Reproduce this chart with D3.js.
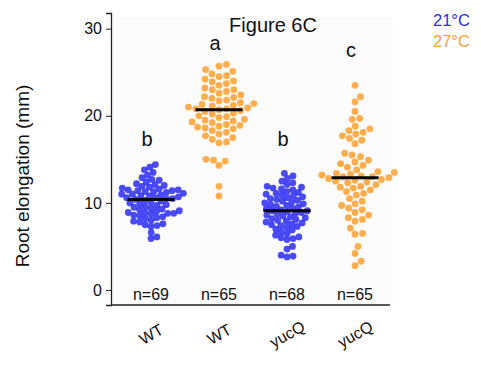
<!DOCTYPE html>
<html>
<head>
<meta charset="utf-8">
<script src="https://cdn.jsdelivr.net/npm/d3@7"></script>
<style>
  body { margin: 0; background: #fff; }
  svg text { font-family: "Liberation Sans", Arial, sans-serif; fill: #111; }
</style>
</head>
<body>
<svg id="chart"></svg>
<script>
const width = 481;
const height = 366;

// groups along x
const groupIds = ["WT21", "WT27", "yucQ21", "yucQ27"];
const groupLabels = ["WT", "WT", "yucQ", "yucQ"];
const groupTemps = ["21", "27", "21", "27"];
const nLabels = ["n=69", "n=65", "n=68", "n=65"];
const sigLetters = ["b", "a", "b", "c"];
const sigLetterAt = [16.5, 27.5, 16.5, 26.8];
const yTicks = [0, 10, 20, 30];

// root elongation (mm)
const wt21 = [14.4, 14.1, 13.8, 13.5, 13.2, 12.9, 12.7, 12.6, 12.4, 12.2, 12.1, 12.0, 11.9, 11.8, 11.7,
  11.6, 11.5, 11.5, 11.4, 11.4, 11.3, 11.3, 11.2, 11.1, 11.0, 11.0, 10.9, 10.8, 10.8, 10.7, 10.6, 10.6,
  10.5, 10.5, 10.4, 10.3, 10.2, 10.1, 10.0, 9.9, 9.8, 9.7, 9.6, 9.5, 9.4, 9.3, 9.2, 9.1, 9.0, 8.9, 8.9,
  8.8, 8.8, 8.7, 8.6, 8.5, 8.4, 8.3, 8.2, 8.0, 7.9, 7.8, 7.6, 7.5, 7.4, 7.3, 6.6, 6.1, 5.9];
const wt27 = [25.9, 25.7, 25.3, 25.1, 24.8, 24.6, 24.5, 24.2, 24.0, 23.9, 23.7, 23.5, 23.2, 23.0, 23.0,
  22.8, 22.6, 22.4, 22.2, 22.1, 22.0, 21.8, 21.7, 21.5, 21.4, 21.3, 21.2, 21.1, 21.0, 20.9, 20.8, 20.8,
  20.7, 20.6, 20.5, 20.3, 20.2, 20.0, 19.9, 19.8, 19.6, 19.5, 19.4, 19.3, 19.2, 19.0, 18.9, 18.8, 18.7,
  18.6, 18.5, 18.3, 18.1, 17.9, 17.7, 17.5, 17.3, 17.0, 16.9, 15.0, 14.9, 14.8, 14.3, 11.9, 10.8];
const yuc21 = [13.4, 13.1, 12.8, 12.5, 12.3, 12.1, 11.9, 11.8, 11.7, 11.6, 11.5, 11.3, 11.2, 11.1, 11.0,
  10.9, 10.8, 10.7, 10.6, 10.5, 10.4, 10.3, 10.2, 10.1, 10.0, 9.9, 9.8, 9.7, 9.6, 9.5, 9.4, 9.3, 9.2, 9.1,
  9.1, 9.0, 8.9, 8.8, 8.7, 8.6, 8.5, 8.4, 8.3, 8.2, 8.1, 8.0, 7.9, 7.8, 7.7, 7.6, 7.5, 7.4, 7.3, 7.2,
  7.0, 6.9, 6.7, 6.5, 6.3, 6.1, 6.0, 5.9, 5.8, 5.0, 4.7, 4.0, 3.9, 3.8];
const yuc27 = [23.5, 22.2, 21.6, 20.5, 19.7, 19.6, 18.8, 18.5, 18.3, 18.1, 17.9, 17.7, 17.4, 17.2, 16.8,
  15.7, 15.5, 15.3, 14.9, 14.7, 14.5, 14.3, 14.1, 13.8, 13.6, 13.5, 13.4, 13.3, 13.2, 13.1, 13.0, 13.0,
  12.9, 12.8, 12.7, 12.6, 12.5, 12.4, 12.3, 12.1, 11.9, 11.8, 11.7, 11.5, 11.3, 11.1, 10.9, 10.5, 10.2,
  9.9, 9.7, 9.4, 9.2, 8.9, 8.6, 8.3, 8.1, 7.9, 7.1, 6.5, 6.4, 5.0, 4.2, 3.3, 2.8];
const groupValues = [wt21, wt27, yuc21, yuc27];

const tempColor = { "21": "#2b2bf5", "27": "#ff9f2e" };
// the 27°C swarms are drawn looser in the original
const swarmGap = { "21": 6.1, "27": 7.6 };

const svg = d3.select("#chart").attr("width", width).attr("height", height);

const y = d3.scaleLinear().domain([-1.72, 31.8]).range([305, 13]);
const x = d3.scalePoint().domain(groupIds).range([151, 355]);

// faint panel
svg.append("rect")
  .attr("x", 112).attr("y", 17).attr("width", 281).attr("height", 287)
  .attr("fill", "#fcfcfc");

// y axis
const yAxis = svg.append("g")
  .attr("transform", "translate(111,0)")
  .call(d3.axisLeft(y).tickValues(yTicks).tickSize(5).tickPadding(4));
yAxis.select(".domain").attr("stroke", "#222").attr("stroke-width", 1.3);
yAxis.selectAll(".tick line").attr("stroke", "#222");
yAxis.selectAll("text").style("font-size", "16px").attr("fill", "#111");

// x axis line only
svg.append("line")
  .attr("x1", 111).attr("x2", 390)
  .attr("y1", y.range()[0]).attr("y2", y.range()[0])
  .attr("stroke", "#222").attr("stroke-width", 1.3);

// simple deterministic beeswarm (points may overlap a little)
function swarm(values, d) {
  const pts = values.map(v => ({ v, py: y(v) })).sort((a, b) => b.py - a.py);
  const placed = [];
  pts.forEach(p => {
    const near = placed.filter(q => Math.abs(q.py - p.py) < d);
    const cands = [0];
    near.forEach(q => {
      const dx = Math.sqrt(d * d - (q.py - p.py) ** 2);
      cands.push(q.dx + dx, q.dx - dx);
    });
    cands.sort((a, b) => Math.abs(a) - Math.abs(b));
    p.dx = cands.find(c => near.every(q => (q.dx - c) ** 2 + (q.py - p.py) ** 2 >= d * d - 0.01));
    placed.push(p);
  });
  return placed;
}

groupIds.forEach((g, i) => {
  const pts = swarm(groupValues[i], swarmGap[groupTemps[i]]);
  svg.append("g").selectAll("circle")
    .data(pts)
    .enter().append("circle")
    .attr("cx", d => x(g) + d.dx)
    .attr("cy", d => d.py)
    .attr("r", 3.4)
    .attr("fill", tempColor[groupTemps[i]])
    .attr("fill-opacity", 0.85);

  const med = d3.median(groupValues[i]);
  svg.append("line")
    .attr("x1", x(g) - 23.5).attr("x2", x(g) + 23.5)
    .attr("y1", y(med)).attr("y2", y(med))
    .attr("stroke", "#000").attr("stroke-width", 3);

  svg.append("text")
    .attr("x", x(g)).attr("y", 300)
    .attr("text-anchor", "middle")
    .style("font-size", "16px")
    .text(nLabels[i]);

  svg.append("text")
    .attr("x", x(g) - 4)
    .attr("y", y(sigLetterAt[i]))
    .attr("text-anchor", "middle")
    .style("font-size", "20px")
    .text(sigLetters[i]);

  svg.append("text")
    .attr("transform", `translate(${x(g) + 3},${339}) rotate(-30)`)
    .attr("text-anchor", "middle")
    .style("font-size", "16px")
    .text(groupLabels[i]);
});

// title
svg.append("text")
  .attr("x", 273).attr("y", 32)
  .attr("text-anchor", "middle")
  .style("font-size", "20px")
  .text("Figure 6C");

// y label
svg.append("text")
  .attr("transform", "translate(29,176) rotate(-90)")
  .attr("text-anchor", "middle")
  .style("font-size", "19px")
  .text("Root elongation (mm)");

// legend
["21", "27"].forEach((t, i) => {
  svg.append("text")
    .attr("x", 433).attr("y", 26 + i * 21)
    .style("font-size", "16.5px")
    .style("fill", tempColor[t])
    .text(t + "°C");
});
</script>
</body>
</html>
